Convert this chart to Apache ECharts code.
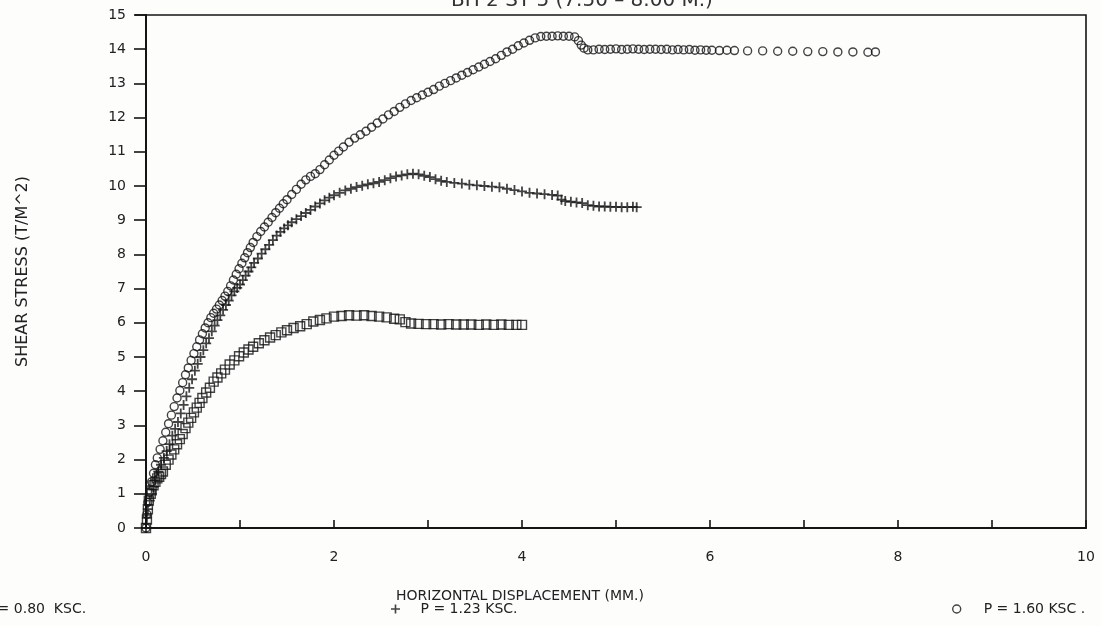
<!DOCTYPE html>
<html>
<head>
<meta charset="utf-8">
<script src="https://cdn.jsdelivr.net/npm/echarts@6/dist/echarts.min.js"></script>
<style>
html,body{margin:0;padding:0;background:#fdfdfc;}
#chart{width:1101px;height:626px;}
</style>
</head>
<body>
<div id="chart"></div>
<script>
// ---- Data ----
const chartTitle = 'BH 2 ST 5 (7.50 \u2013 8.00 M.)';
const xAxisTitle = 'HORIZONTAL DISPLACEMENT (MM.)';
const yAxisTitle = 'SHEAR STRESS (T/M^2)';
const seriesNames = ['P = 0.80  KSC.', 'P = 1.23 KSC.', 'P = 1.60 KSC .'];

// P = 0.80 KSC (squares)
const dispA = [0.00,0.01,0.02,0.03,0.05,0.06,0.08,0.10,0.12,0.14,0.16,0.18,0.21,0.24,0.27,0.30,0.33,0.36,0.39,0.42,0.45,0.48,0.51,0.54,0.57,0.60,0.64,0.68,0.72,0.76,0.80,0.84,0.89,0.94,0.99,1.04,1.09,1.14,1.20,1.26,1.32,1.38,1.44,1.50,1.57,1.64,1.71,1.78,1.85,1.92,2.00,2.08,2.16,2.24,2.32,2.40,2.48,2.56,2.64,2.70,2.76,2.82,2.90,2.98,3.06,3.14,3.22,3.30,3.38,3.46,3.54,3.62,3.70,3.78,3.86,3.94,4.00];
const stressA = [0.00,0.25,0.55,0.80,1.00,1.10,1.25,1.35,1.45,1.50,1.58,1.65,1.85,2.00,2.15,2.30,2.45,2.60,2.75,2.92,3.08,3.22,3.38,3.52,3.66,3.80,3.96,4.10,4.28,4.40,4.52,4.63,4.78,4.90,5.02,5.13,5.22,5.30,5.40,5.49,5.57,5.64,5.72,5.78,5.85,5.90,5.96,6.04,6.08,6.13,6.18,6.20,6.22,6.21,6.22,6.20,6.18,6.16,6.12,6.10,6.02,5.98,5.97,5.96,5.96,5.95,5.96,5.95,5.95,5.95,5.94,5.95,5.94,5.95,5.94,5.94,5.94];

// P = 1.23 KSC (plus signs)
const dispB = [0.00,0.01,0.02,0.04,0.06,0.08,0.10,0.13,0.16,0.19,0.22,0.25,0.28,0.31,0.34,0.37,0.40,0.43,0.46,0.49,0.52,0.55,0.58,0.61,0.64,0.67,0.70,0.73,0.76,0.79,0.82,0.85,0.88,0.91,0.94,0.97,1.00,1.03,1.06,1.09,1.12,1.15,1.19,1.23,1.27,1.31,1.35,1.39,1.43,1.47,1.51,1.55,1.60,1.65,1.70,1.75,1.80,1.85,1.90,1.95,2.00,2.06,2.12,2.18,2.24,2.30,2.36,2.42,2.48,2.54,2.60,2.66,2.72,2.78,2.84,2.90,2.96,3.02,3.08,3.14,3.20,3.28,3.36,3.44,3.52,3.60,3.68,3.76,3.84,3.92,4.00,4.08,4.16,4.24,4.32,4.38,4.42,4.46,4.52,4.58,4.64,4.70,4.76,4.82,4.88,4.94,5.00,5.06,5.12,5.18,5.22];
const stressB = [0.00,0.30,0.55,0.80,1.00,1.20,1.40,1.65,1.85,2.05,2.25,2.45,2.70,2.90,3.10,3.35,3.60,3.85,4.10,4.35,4.60,4.80,5.00,5.20,5.40,5.55,5.75,5.92,6.08,6.22,6.38,6.52,6.65,6.80,6.92,7.02,7.12,7.25,7.38,7.50,7.62,7.75,7.88,8.02,8.15,8.28,8.42,8.55,8.66,8.76,8.85,8.94,9.03,9.12,9.21,9.30,9.40,9.49,9.58,9.66,9.73,9.80,9.87,9.92,9.97,10.01,10.05,10.08,10.12,10.17,10.23,10.28,10.31,10.34,10.36,10.34,10.30,10.26,10.20,10.15,10.12,10.09,10.07,10.04,10.02,10.00,9.98,9.96,9.92,9.88,9.84,9.80,9.78,9.76,9.74,9.72,9.60,9.56,9.54,9.52,9.50,9.44,9.42,9.40,9.40,9.39,9.39,9.38,9.38,9.39,9.38];

// P = 1.60 KSC (circles)
const dispC = [0.00,0.01,0.02,0.04,0.06,0.08,0.10,0.12,0.15,0.18,0.21,0.24,0.27,0.30,0.33,0.36,0.39,0.42,0.45,0.48,0.51,0.54,0.57,0.60,0.63,0.66,0.69,0.72,0.75,0.78,0.81,0.84,0.87,0.90,0.93,0.96,0.99,1.02,1.05,1.08,1.11,1.14,1.18,1.22,1.26,1.30,1.34,1.38,1.42,1.46,1.50,1.55,1.60,1.65,1.70,1.75,1.80,1.85,1.90,1.95,2.00,2.05,2.10,2.16,2.22,2.28,2.34,2.40,2.46,2.52,2.58,2.64,2.70,2.76,2.82,2.88,2.94,3.00,3.06,3.12,3.18,3.24,3.30,3.36,3.42,3.48,3.54,3.60,3.66,3.72,3.78,3.84,3.90,3.96,4.02,4.08,4.14,4.20,4.26,4.32,4.38,4.44,4.50,4.56,4.60,4.63,4.66,4.70,4.76,4.82,4.88,4.94,5.00,5.06,5.12,5.18,5.24,5.30,5.36,5.42,5.48,5.54,5.60,5.66,5.72,5.78,5.84,5.90,5.96,6.02,6.10,6.18,6.26,6.40,6.56,6.72,6.88,7.04,7.20,7.36,7.52,7.68,7.76];
const stressC = [0.00,0.40,0.75,1.05,1.35,1.60,1.85,2.05,2.30,2.55,2.80,3.05,3.30,3.55,3.80,4.02,4.25,4.48,4.68,4.90,5.10,5.30,5.50,5.68,5.85,6.00,6.15,6.28,6.40,6.52,6.65,6.78,6.92,7.08,7.25,7.42,7.58,7.74,7.90,8.05,8.20,8.35,8.52,8.67,8.80,8.94,9.08,9.22,9.35,9.48,9.60,9.75,9.90,10.05,10.18,10.28,10.36,10.48,10.62,10.76,10.90,11.02,11.14,11.28,11.40,11.50,11.60,11.72,11.84,11.96,12.08,12.18,12.30,12.40,12.50,12.58,12.66,12.74,12.82,12.92,13.00,13.08,13.16,13.24,13.32,13.40,13.48,13.56,13.64,13.72,13.82,13.92,14.00,14.10,14.18,14.26,14.33,14.37,14.38,14.38,14.39,14.38,14.38,14.36,14.25,14.12,14.03,13.98,13.98,14.00,13.99,14.00,14.01,13.99,14.00,14.01,14.00,13.99,14.00,14.00,13.99,14.00,13.98,13.99,13.98,13.99,13.97,13.98,13.97,13.97,13.96,13.97,13.96,13.95,13.95,13.94,13.94,13.93,13.93,13.92,13.92,13.91,13.92];

// ---- Styling ----
const ink = '#141414';
const textInk = '#222222';
const fam = 'DejaVu Sans';
const plusPath = 'path://M4.1,0H5.9V4.1H10V5.9H5.9V10H4.1V5.9H0V4.1H4.1Z';

function pairs(xs, ys){ return xs.map((x,i)=>[x, ys[i]]); }

const chart = echarts.init(document.getElementById('chart'), null, {renderer:'canvas'});
chart.setOption({
  backgroundColor: '#fdfdfc',
  animation: false,
  title: {
    text: chartTitle, left: 446, top: -14,
    textStyle: {fontFamily: fam, fontSize: 20, fontWeight: 'normal', color: '#333333'}
  },
  grid: {left: 146, right: 15, top: 15, bottom: 98, show: true, borderColor: ink, borderWidth: 1.6, backgroundColor: 'transparent'},
  graphic: [
    {type: 'line', shape: {x1: 135, y1: 15, x2: 147, y2: 15}, style: {stroke: ink, lineWidth: 1.6}, silent: true}
  ],
  xAxis: {
    type: 'value', min: 0, max: 10, interval: 1,
    name: xAxisTitle, nameLocation: 'middle', nameGap: 61,
    nameTextStyle: {fontFamily: fam, fontSize: 14, color: textInk, padding: [0, 192, 0, 0]},
    axisLine: {lineStyle: {color: ink, width: 2}},
    axisTick: {inside: true, length: 8, lineStyle: {color: ink, width: 1.6}},
    axisLabel: {fontFamily: fam, fontSize: 14, color: textInk, margin: 22,
      formatter: v => (v % 2 === 0 ? String(v) : '')},
    splitLine: {show: false}
  },
  yAxis: {
    type: 'value', min: 0, max: 15, interval: 1,
    name: yAxisTitle, nameLocation: 'middle', nameGap: 115, nameRotate: 90,
    nameTextStyle: {fontFamily: fam, fontSize: 16, color: textInk},
    axisLine: {lineStyle: {color: ink, width: 2}},
    axisTick: {inside: false, length: 12, lineStyle: {color: ink, width: 1.6}},
    axisLabel: {fontFamily: fam, fontSize: 14, color: textInk, margin: 20},
    splitLine: {show: false}
  },
  legend: [
    {data: [seriesNames[0]], left: -56, top: 597, itemWidth: 30, itemHeight: 9,
     textStyle: {fontFamily: fam, fontSize: 14, color: textInk},
     itemStyle: {color: 'rgba(0,0,0,0)', borderColor: ink, borderWidth: 1.4}},
    {data: [seriesNames[1]], left: 386, top: 597, itemWidth: 40, itemHeight: 9,
     textStyle: {fontFamily: fam, fontSize: 14, color: textInk},
     itemStyle: {color: ink, borderWidth: 0}},
    {data: [seriesNames[2]], left: 947, top: 597, itemWidth: 44, itemHeight: 8,
     textStyle: {fontFamily: fam, fontSize: 14, color: textInk},
     itemStyle: {color: 'rgba(0,0,0,0)', borderColor: ink, borderWidth: 1.4}}
  ],
  series: [
    {name: seriesNames[0], type: 'scatter', data: pairs(dispA, stressA), symbol: 'rect', symbolSize: 9,
     itemStyle: {color: 'rgba(0,0,0,0)', borderColor: ink, borderWidth: 1.4}},
    {name: seriesNames[1], type: 'scatter', data: pairs(dispB, stressB), symbol: plusPath, symbolSize: 10,
     itemStyle: {color: ink, borderWidth: 0}},
    {name: seriesNames[2], type: 'scatter', data: pairs(dispC, stressC), symbol: 'circle', symbolSize: 8,
     itemStyle: {color: 'rgba(0,0,0,0)', borderColor: ink, borderWidth: 1.4}}
  ]
});
</script>
</body>
</html>
